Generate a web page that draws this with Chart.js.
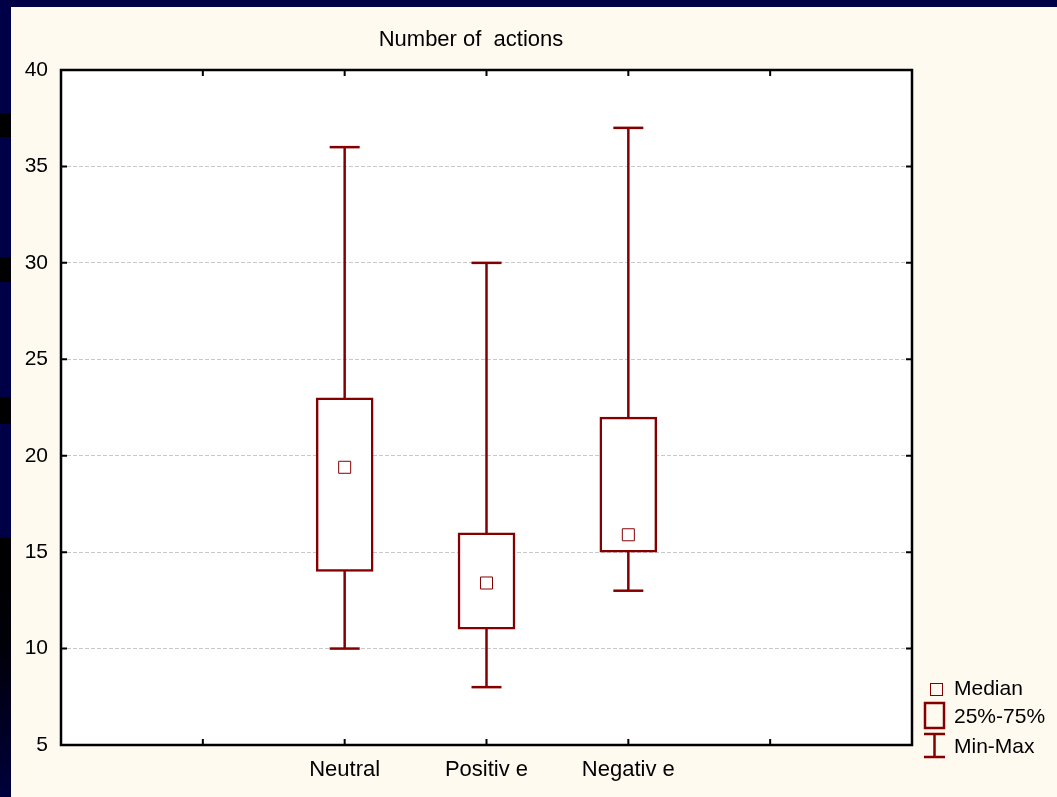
<!DOCTYPE html>
<html lang="en">
<head>
    <meta charset="UTF-8">
    <title>Number of actions</title>
    <script src="https://cdn.jsdelivr.net/npm/chart.js"></script>
    <style>
        html, body {
            margin: 0;
            padding: 0;
            width: 1057px;
            height: 797px;
            overflow: hidden;
            background: #000046;
        }
        .band {
            position: absolute;
            left: 0;
            width: 11px;
            background: #000000;
        }
        .panel {
            position: absolute;
            left: 11px;
            top: 7px;
            width: 1046px;
            height: 790px;
            background: #fffaf0;
        }
        #chart {
            position: absolute;
            left: 0;
            top: 0;
        }
    </style>
</head>
<body>
    <div class="band" style="top:113px;height:24px"></div>
    <div class="band" style="top:257px;height:25px"></div>
    <div class="band" style="top:397px;height:27px"></div>
    <div class="band" style="top:538px;height:259px;background:linear-gradient(#000000, #000008 40%, #00003c)"></div>
    <div class="panel">
        <canvas id="chart" width="1046" height="790"></canvas>
    </div>

    <script>
        // values
        const categories = ['Neutral', 'Positiv e', 'Negativ e'];
        const positions = [2, 3, 4];
        const minValues = [10, 8, 13];
        const q1Values = [14, 11, 15];
        const medianValues = [19.4, 13.4, 15.9];
        const q3Values = [23, 16, 22];
        const maxValues = [36, 30, 37];
        const yTicks = [5, 10, 15, 20, 25, 30, 35, 40];
        const xTicks = [1, 2, 3, 4, 5];

        const red = '#840000';
        const fontFamily = '"Liberation Sans", Arial, sans-serif';

        const whiskers = positions.map((p, i) => ({
            type: 'line',
            data: [{ x: p, y: minValues[i] }, { x: p, y: maxValues[i] }],
            borderColor: red,
            borderWidth: 2.5,
            pointRadius: 0,
            order: 4
        }));

        const datasets = [
            {
                type: 'scatter',
                label: 'Median',
                data: positions.map((p, i) => ({ x: p, y: medianValues[i] })),
                pointStyle: 'rect',
                pointRadius: 8.5,
                pointBackgroundColor: '#ffffff',
                pointBorderColor: red,
                pointBorderWidth: 1,
                order: 0
            },
            {
                type: 'bar',
                label: '25%-75%',
                data: positions.map((p, i) => ({ x: p, y: [q1Values[i], q3Values[i]] })),
                backgroundColor: '#ffffff',
                borderColor: red,
                borderWidth: 2.5,
                borderSkipped: false,
                barThickness: 57,
                order: 1
            },
            {
                type: 'scatter',
                label: 'Min-Max',
                data: positions.flatMap((p, i) => [{ x: p, y: minValues[i] }, { x: p, y: maxValues[i] }]),
                pointStyle: 'line',
                pointRadius: 15,
                pointBorderColor: red,
                pointBorderWidth: 2.5,
                order: 2
            },
            ...whiskers
        ];

        const framePlugin = {
            id: 'frame',
            beforeDraw(chart) {
                const { ctx, chartArea: a } = chart;
                ctx.save();
                ctx.fillStyle = '#ffffff';
                ctx.fillRect(a.left, a.top, a.right - a.left, a.bottom - a.top);
                ctx.restore();
            },
            afterDatasetsDraw(chart) {
                const { ctx, chartArea: a, scales } = chart;
                ctx.save();
                ctx.strokeStyle = '#000000';
                ctx.lineWidth = 2.5;
                ctx.strokeRect(a.left, a.top, a.right - a.left, a.bottom - a.top);
                ctx.lineWidth = 2;
                ctx.beginPath();
                yTicks.forEach(v => {
                    const y = scales.y.getPixelForValue(v);
                    ctx.moveTo(a.left, y); ctx.lineTo(a.left + 6, y);
                    ctx.moveTo(a.right, y); ctx.lineTo(a.right - 6, y);
                });
                xTicks.forEach(v => {
                    const x = scales.x.getPixelForValue(v);
                    ctx.moveTo(x, a.bottom); ctx.lineTo(x, a.bottom - 6);
                    ctx.moveTo(x, a.top); ctx.lineTo(x, a.top + 6);
                });
                ctx.stroke();

                // title
                ctx.fillStyle = '#000000';
                ctx.font = '22px ' + fontFamily;
                ctx.textAlign = 'center';
                ctx.textBaseline = 'alphabetic';
                ctx.fillText('Number of  actions', 460, 39);

                // legend
                ctx.font = '21px ' + fontFamily;
                ctx.strokeStyle = red;
                ctx.lineWidth = 1;
                ctx.strokeRect(919.5, 676.5, 12, 12);
                ctx.lineWidth = 2.5;
                ctx.strokeRect(914, 696, 19, 25);
                ctx.beginPath();
                ctx.moveTo(923.5, 727); ctx.lineTo(923.5, 750);
                ctx.moveTo(913, 727); ctx.lineTo(934, 727);
                ctx.moveTo(913, 750); ctx.lineTo(934, 750);
                ctx.stroke();
                ctx.textAlign = 'left';
                ctx.fillText('Median', 943, 688);
                ctx.fillText('25%-75%', 943, 716);
                ctx.fillText('Min-Max', 943, 746);
                ctx.restore();
            }
        };

        new Chart(document.getElementById('chart'), {
            type: 'scatter',
            data: { datasets },
            options: {
                responsive: false,
                animation: false,
                devicePixelRatio: 1,
                layout: { padding: { top: 63, right: 145, left: 0, bottom: 0 } },
                plugins: {
                    legend: { display: false },
                    tooltip: { enabled: false },
                    title: { display: false }
                },
                scales: {
                    x: {
                        type: 'linear',
                        min: 0,
                        max: 6,
                        offset: false,
                        afterFit: s => { s.height = 52; },
                        grid: { display: false, offset: false, drawTicks: false },
                        border: { display: false },
                        ticks: {
                            stepSize: 1,
                            padding: 12,
                            color: '#000000',
                            font: { family: fontFamily, size: 22 },
                            callback: v => {
                                const i = positions.indexOf(v);
                                return i >= 0 ? categories[i] : '';
                            }
                        }
                    },
                    y: {
                        type: 'linear',
                        min: 5,
                        max: 40,
                        beginAtZero: false,
                        afterFit: s => { s.width = 50; },
                        grid: { color: '#c8c8c8', lineWidth: 1, drawTicks: false },
                        border: { display: false, dash: [4, 2] },
                        ticks: {
                            stepSize: 5,
                            padding: 13,
                            color: '#000000',
                            font: { family: fontFamily, size: 21 }
                        }
                    }
                }
            },
            plugins: [framePlugin]
        });
    </script>
</body>
</html>
